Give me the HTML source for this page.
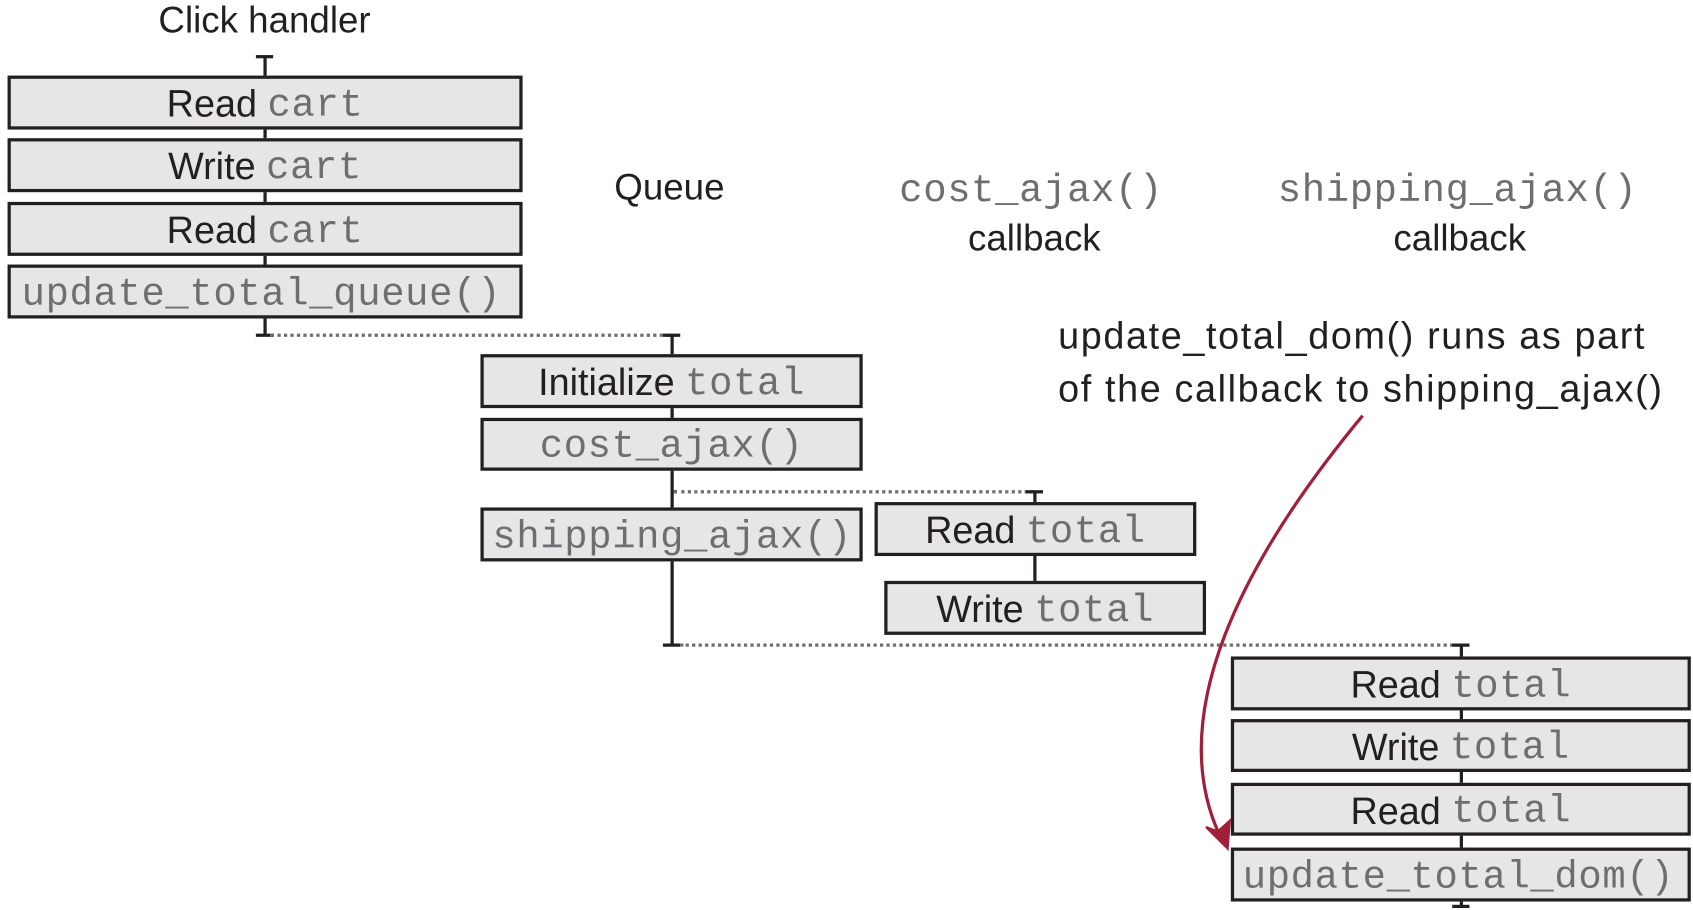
<!DOCTYPE html>
<html><head><meta charset="utf-8"><style>
html,body{margin:0;padding:0;background:#fff;width:1693px;height:910px;overflow:hidden}
#w{position:absolute;left:0;top:0;width:1568px;height:843px;transform:scale(1.0797);transform-origin:0 0}
.b{position:absolute;box-sizing:border-box;border:3px solid #231f20;background:#e6e6e7;display:flex;align-items:center;justify-content:center;font:35px "Liberation Sans",sans-serif;color:#231f20;white-space:nowrap;padding-top:4px}
.m{font-family:"Liberation Mono",monospace;color:#6d6e70;font-size:36px;letter-spacing:0.6px}
.t{position:absolute;font:34px "Liberation Sans",sans-serif;color:#231f20;white-space:nowrap;transform:translateX(-50%)}
.v{position:absolute;background:#231f20;width:3px}
.c{position:absolute;background:#231f20;height:3px;width:16px}
.d{position:absolute;height:0;border-top:3px dotted #6d6e70}
.n{position:absolute;font:35px "Liberation Sans",sans-serif;color:#231f20;white-space:nowrap;letter-spacing:1.5px}
</style></head><body><div id="w">
<div class="t" style="left:245px;top:0px">Click handler</div>
<div class="t" style="left:620px;top:155px">Queue</div>
<div class="t" style="left:955px;top:156px"><span class="m">cost_ajax()</span></div>
<div class="t" style="left:958px;top:202px">callback</div>
<div class="t" style="left:1350px;top:156px"><span class="m">shipping_ajax()</span></div>
<div class="t" style="left:1352px;top:202px">callback</div>
<div class="n" style="left:980px;top:292px">update_total_dom() runs as part</div>
<div class="n" style="left:980px;top:341px">of the callback to shipping_ajax()</div>

<div class="v" style="left:244px;top:52px;height:258px"></div>
<div class="c" style="left:237px;top:51px"></div>
<div class="c" style="left:237px;top:309px"></div>
<div class="d" style="left:250px;top:309px;width:372px"></div>
<div class="v" style="left:621px;top:310px;height:287px"></div>
<div class="c" style="left:614px;top:309px"></div>
<div class="c" style="left:614px;top:596px"></div>
<div class="d" style="left:624px;top:454px;width:334px"></div>
<div class="v" style="left:957px;top:455px;height:85px"></div>
<div class="c" style="left:950px;top:454px"></div>
<div class="d" style="left:630px;top:596px;width:722px"></div>
<div class="v" style="left:1352px;top:597px;height:244px"></div>
<div class="c" style="left:1345px;top:596px"></div>
<div class="c" style="left:1345px;top:838px"></div>

<div class="b" style="left:7px;top:70px;width:477px;height:50px">Read&nbsp;<span class="m">cart</span></div>
<div class="b" style="left:7px;top:128px;width:477px;height:50px">Write&nbsp;<span class="m">cart</span></div>
<div class="b" style="left:7px;top:187px;width:477px;height:50px">Read&nbsp;<span class="m">cart</span></div>
<div class="b" style="left:7px;top:245px;width:477px;height:50px;justify-content:flex-start;padding-left:10px"><span class="m">update_total_queue()</span></div>

<div class="b" style="left:445px;top:328px;width:354px;height:50px">Initialize&nbsp;<span class="m">total</span></div>
<div class="b" style="left:445px;top:387px;width:354px;height:49px"><span class="m">cost_ajax()</span></div>
<div class="b" style="left:445px;top:470px;width:354px;height:50px;justify-content:flex-start;padding-left:8px"><span class="m">shipping_ajax()</span></div>

<div class="b" style="left:810px;top:465px;width:298px;height:50px">Read&nbsp;<span class="m">total</span></div>
<div class="b" style="left:819px;top:538px;width:298px;height:50px">Write&nbsp;<span class="m">total</span></div>

<div class="b" style="left:1140px;top:608px;width:426px;height:50px">Read&nbsp;<span class="m">total</span></div>
<div class="b" style="left:1140px;top:666px;width:426px;height:49px">Write&nbsp;<span class="m">total</span></div>
<div class="b" style="left:1140px;top:725px;width:426px;height:49px">Read&nbsp;<span class="m">total</span></div>
<div class="b" style="left:1140px;top:785px;width:426px;height:50px;justify-content:flex-start;padding-left:8px"><span class="m">update_total_dom()</span></div>

<svg style="position:absolute;left:0;top:0" width="1568" height="843">
<path d="M1262,385 C1150,520 1080,660 1128,770" fill="none" stroke="#a0203a" stroke-width="3"/>
<path d="M1137,786 L1117,766 L1128,770 L1139,760 Z" fill="#a0203a" stroke="#a0203a" stroke-width="2"/>
</svg>
</div></body></html>
